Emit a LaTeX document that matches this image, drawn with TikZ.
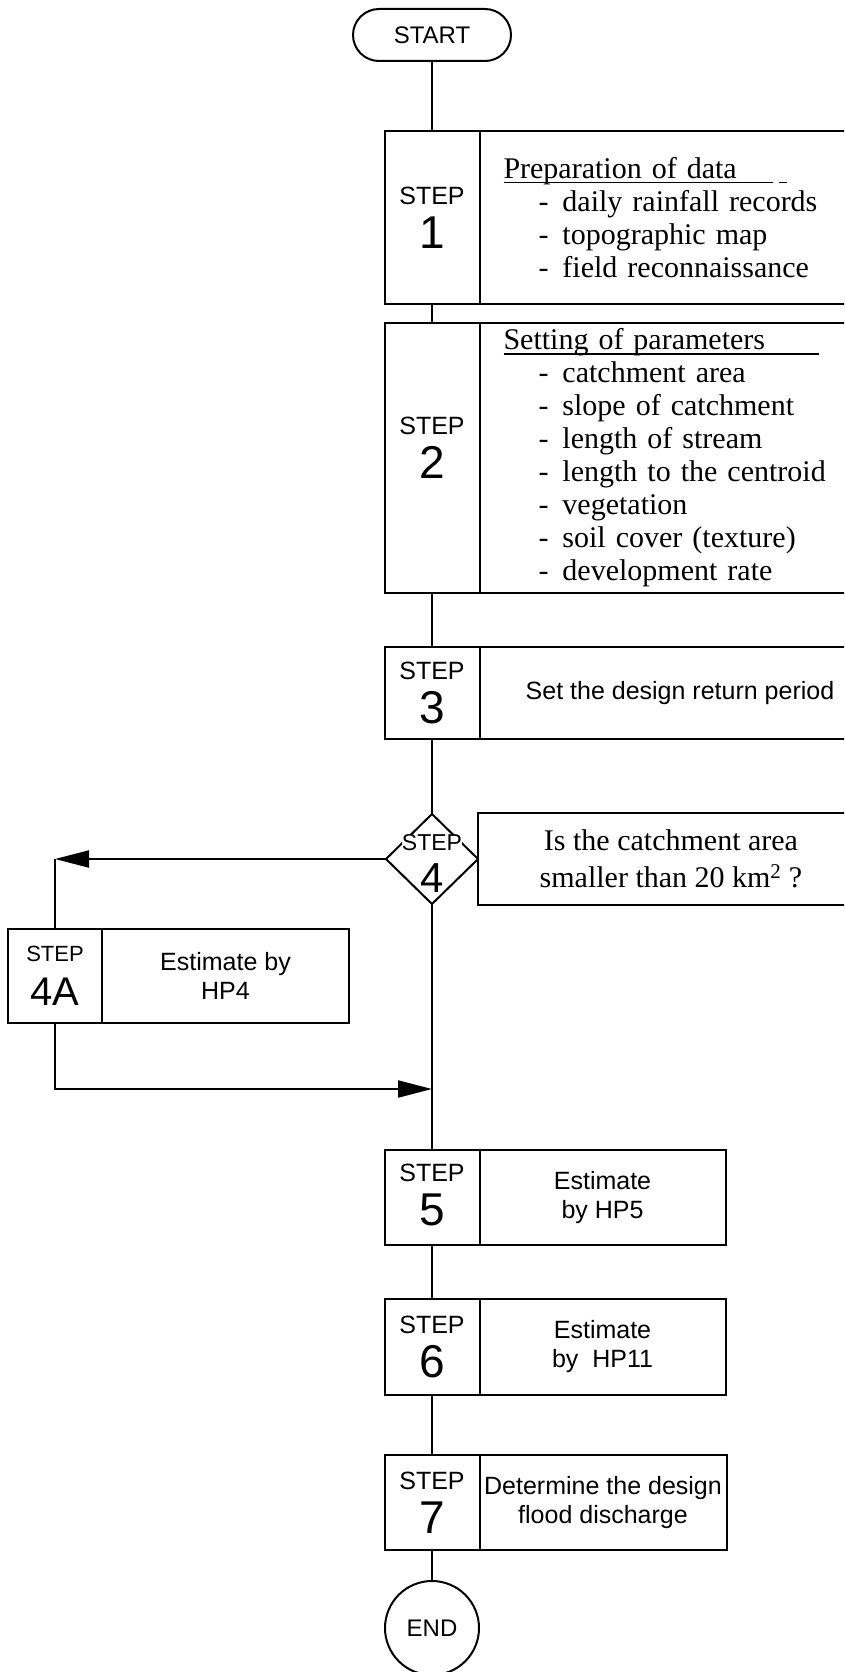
\documentclass[tikz,border=0pt]{standalone}
\usepackage{fontspec}
\usepackage{tikz}
\usetikzlibrary{shapes.geometric, arrows.meta, positioning}
\setmainfont{Liberation Serif}
\setsansfont{Liberation Sans}

\newcommand{\stepfont}{\sffamily\fontsize{25}{44}\selectfont}
\newcommand{\numfont}{\fontsize{46}{46}\selectfont}
\newcommand{\bodyfont}{\sffamily\fontsize{25}{29}\selectfont}
\newcommand{\listfont}{\rmfamily\fontsize{30}{33}\selectfont}
\newcommand{\itm}{\hspace*{35pt}-\hspace*{14pt}}

\tikzset{
    stepno/.style={draw, rectangle, line width=2pt, outer sep=0pt, inner sep=0pt,
        minimum width=95pt, align=center, font=\stepfont},
    stepbody/.style={draw, rectangle, line width=2pt, outer sep=0pt, inner xsep=2pt,
        align=center, font=\bodyfont},
    terminal/.style={draw, line width=2pt, outer sep=0pt, font=\sffamily\fontsize{24}{24}\selectfont},
    link/.style={line width=2pt},
    flow/.style={line width=2pt, -{Triangle[length=34pt,width=17pt]}}
}

\begin{document}
\begin{tikzpicture}[x=1pt, y=-1pt]
    \useasboundingbox (0,0) rectangle (844,1672);
    \clip (0,0) rectangle (844,1672);

    % Start
    \node[terminal, rounded corners=26pt, minimum width=158pt, minimum height=52pt] (start) at (432,35) {START};

    % Steps 1 to 3
    \node[stepno, minimum height=173pt] (s1) at (432,217.5) {STEP\\{\numfont 1}};
    \node[stepbody, right=0pt of s1, minimum height=173pt, text width=372pt, inner xsep=24pt,
        align=left, font=\listfont] (s1t) {\rlap{\rule[-5pt]{269pt}{1.6pt}\hspace{6pt}\rule[-5pt]{8pt}{1.6pt}}Preparation of data\\
        \itm daily rainfall records\\
        \itm topographic map\\
        \itm field reconnaissance};

    \node[stepno, minimum height=270pt, text depth=20pt] (s2) at (432,458) {STEP\\{\numfont 2}};
    \node[stepbody, right=0pt of s2, minimum height=270pt, text width=372pt, inner xsep=24pt,
        align=left, font=\listfont] (s2t) {\rlap{\rule[-5pt]{315pt}{1.6pt}}Setting of parameters\\
        \itm catchment area\\
        \itm slope of catchment\\
        \itm length of stream\\
        \itm length to the centroid\\
        \itm vegetation\\
        \itm soil cover (texture)\\
        \itm development rate};

    \node[stepno, minimum height=92pt] (s3) at (432,693) {STEP\\{\numfont 3}};
    \node[stepbody, right=0pt of s3, minimum height=92pt, minimum width=401pt] (s3t) {Set the design return period};

    % Step 4 decision
    \node[draw, diamond, line width=2pt, outer sep=0pt, inner sep=0pt, minimum width=92pt, minimum height=90pt] (d4) at (432,859) {};
    \node[fill=white, inner sep=0pt, font=\sffamily\fontsize{23}{23}\selectfont] (d4step) at (432,843) {STEP};
    \node[inner sep=0pt, font=\sffamily\fontsize{42}{42}\selectfont] (d4no) at (432,878) {4};
    \node[stepbody, right=0pt of d4, minimum height=92pt, minimum width=386pt,
        font=\rmfamily\fontsize{30}{37}\selectfont] (q4) {Is the catchment area\\smaller than 20 km\textsuperscript{2} ?};

    \node[stepno, minimum width=94pt, minimum height=94pt, font=\sffamily\fontsize{22}{44}\selectfont] (s4a) at (55,976) {STEP\\{\fontsize{40}{40}\selectfont 4A}};
    \node[stepbody, right=0pt of s4a, minimum height=94pt, minimum width=247pt] (s4at) {Estimate by\\HP4};
    \coordinate (merge) at (432,1089);

    % Steps 5 to 7
    \node[stepno, minimum height=95pt, text depth=6pt] (s5) at (432,1197.5) {STEP\\{\numfont 5}};
    \node[stepbody, right=0pt of s5, minimum height=95pt, minimum width=246pt] (s5t) {Estimate\\by HP5};

    \node[stepno, minimum height=96pt] (s6) at (432,1347) {STEP\\{\numfont 6}};
    \node[stepbody, right=0pt of s6, minimum height=96pt, minimum width=246pt] (s6t) {Estimate\\by\ \ HP11};

    \node[stepno, minimum height=95pt] (s7) at (432,1502.5) {STEP\\{\numfont 7}};
    \node[stepbody, right=0pt of s7, minimum height=95pt, minimum width=247pt] (s7t) {Determine the design\\flood discharge};

    % End
    \node[terminal, circle, minimum size=94pt, inner sep=0pt] (end) at (432,1628) {END};

    % Connectors
    \draw[link] (start) -- (s1);
    \draw[link] (s1) -- (s2);
    \draw[link] (s2) -- (s3);
    \draw[link] (s3) -- (d4);
    \draw[link] (d4) -- (s5);
    \draw[flow] (d4.west) -- (d4.west -| s4a.north);
    \draw[link] (d4.west -| s4a.north) -- (s4a.north);
    \draw[flow] (s4a.south) |- (merge);
    \draw[link] (s5) -- (s6);
    \draw[link] (s6) -- (s7);
    \draw[link] (s7) -- (end);
\end{tikzpicture}
\end{document}
